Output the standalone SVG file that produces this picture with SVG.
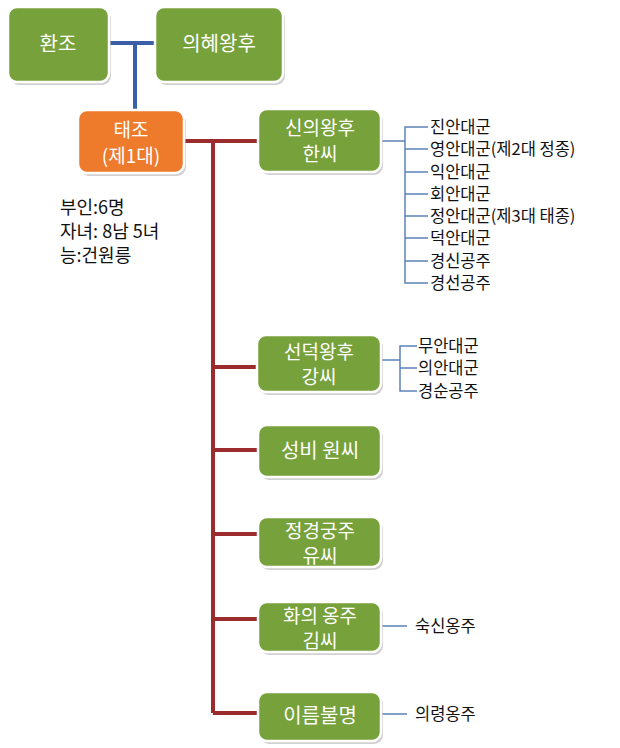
<svg xmlns="http://www.w3.org/2000/svg" width="620" height="748" viewBox="0 0 620 748">
<style>
.box{stroke:#ffffff;stroke-width:2.5}
.g{fill:#77a13a}
.o{fill:#ee7a2c}
.sh{fill:#9a9a9a;opacity:0.45}
.bt{font-family:"Noto Sans CJK KR","Noto Sans",sans-serif;font-size:19px;fill:#ffffff;text-anchor:middle}
.lt{font-family:"Noto Sans CJK KR","Noto Sans",sans-serif;font-size:16.5px;fill:#111111}
.nt{font-family:"Noto Sans CJK KR","Noto Sans",sans-serif;font-size:18px;fill:#111111}
.red{stroke:#9b2b2d;stroke-width:4;fill:none}
.blue{stroke:#3b5ea8;stroke-width:4;fill:none}
.thin{stroke:#5b82b8;stroke-width:1.5;fill:none}
</style>
<rect width="620" height="748" fill="#ffffff"/>
<g id="connectors">
<path class="blue" d="M108 43 H156 M135 43 V111"/>
<path class="red" d="M185 141 H259 M213 141 V713 M213 367 H258 M213 450 H258 M213 534 H258 M213 619 H258 M213 713 H258"/>
<path class="thin" d="M382 141 H405 M428 127 H405 V283 H428 M405 149 H428 M405 172 H428 M405 194 H428 M405 216 H428 M405 238 H428 M405 261 H428"/>
<path class="thin" d="M382 360 H400 M417 346 H400 V391 H417 M400 368 H417"/>
<path class="thin" d="M382 626 H407 M382 714 H407"/>
</g>
<g id="n-hwanjo">
<rect class="sh" x="10" y="10" width="101" height="75" rx="9"/>
<rect class="box g" x="8" y="7" width="101" height="75" rx="9"/>
<text class="bt" x="58" y="51" style="font-size:20px">환조</text>
</g>
<g id="n-uihye">
<rect class="sh" x="157" y="10" width="128" height="75" rx="9"/>
<rect class="box g" x="155" y="7" width="128" height="75" rx="9"/>
<text class="bt" x="219" y="51" style="font-size:20px">의혜왕후</text>
</g>
<g id="n-taejo">
<rect class="sh" x="80" y="113" width="106" height="63" rx="9"/>
<rect class="box o" x="78" y="110" width="106" height="63" rx="9"/>
<text class="bt" x="131" y="137">태조</text>
<text class="bt" x="131" y="163">(제1대)</text>
</g>
<g id="n-info">
<text class="nt" x="60" y="214">부인:6명</text>
<text class="nt" x="60" y="238">자녀: 8남 5녀</text>
<text class="nt" x="60" y="262">능:건원릉</text>
</g>
<g id="n-sinui">
<rect class="sh" x="260" y="112" width="123" height="63" rx="9"/>
<rect class="box g" x="258" y="109" width="123" height="63" rx="9"/>
<text class="bt" x="320" y="135">신의왕후</text>
<text class="bt" x="320" y="161">한씨</text>
</g>
<g id="n-sinui-children">
<text class="lt" x="430" y="133">진안대군</text>
<text class="lt" x="430" y="155">영안대군(제2대 정종)</text>
<text class="lt" x="430" y="178">익안대군</text>
<text class="lt" x="430" y="200">회안대군</text>
<text class="lt" x="430" y="222">정안대군(제3대 태종)</text>
<text class="lt" x="430" y="244">덕안대군</text>
<text class="lt" x="430" y="267">경신공주</text>
<text class="lt" x="430" y="289">경선공주</text>
</g>
<g id="n-seondeok">
<rect class="sh" x="259" y="338" width="124" height="57" rx="9"/>
<rect class="box g" x="257" y="335" width="124" height="57" rx="9"/>
<text class="bt" x="319" y="359">선덕왕후</text>
<text class="bt" x="319" y="384">강씨</text>
</g>
<g id="n-seondeok-children">
<text class="lt" x="418" y="352">무안대군</text>
<text class="lt" x="418" y="374">의안대군</text>
<text class="lt" x="418" y="397">경순공주</text>
</g>
<g id="n-seongbi">
<rect class="sh" x="260" y="428" width="123" height="52" rx="9"/>
<rect class="box g" x="258" y="425" width="123" height="52" rx="9"/>
<text class="bt" x="320" y="458" style="font-size:20px">성비 원씨</text>
</g>
<g id="n-jeonggyeong">
<rect class="sh" x="260" y="520" width="123" height="50" rx="9"/>
<rect class="box g" x="258" y="517" width="123" height="50" rx="9"/>
<text class="bt" x="320" y="538">정경궁주</text>
<text class="bt" x="320" y="563">유씨</text>
</g>
<g id="n-hwaui">
<rect class="sh" x="260" y="605" width="123" height="50" rx="9"/>
<rect class="box g" x="258" y="602" width="123" height="50" rx="9"/>
<text class="bt" x="320" y="623">화의 옹주</text>
<text class="bt" x="320" y="648">김씨</text>
</g>
<g id="n-suksin">
<text class="lt" x="415" y="632">숙신옹주</text>
</g>
<g id="n-ireum">
<rect class="sh" x="260" y="695" width="123" height="49" rx="9"/>
<rect class="box g" x="258" y="692" width="123" height="49" rx="9"/>
<text class="bt" x="320" y="723" style="font-size:20px">이름불명</text>
</g>
<g id="n-uiryeong">
<text class="lt" x="415" y="720">의령옹주</text>
</g>
</svg>
